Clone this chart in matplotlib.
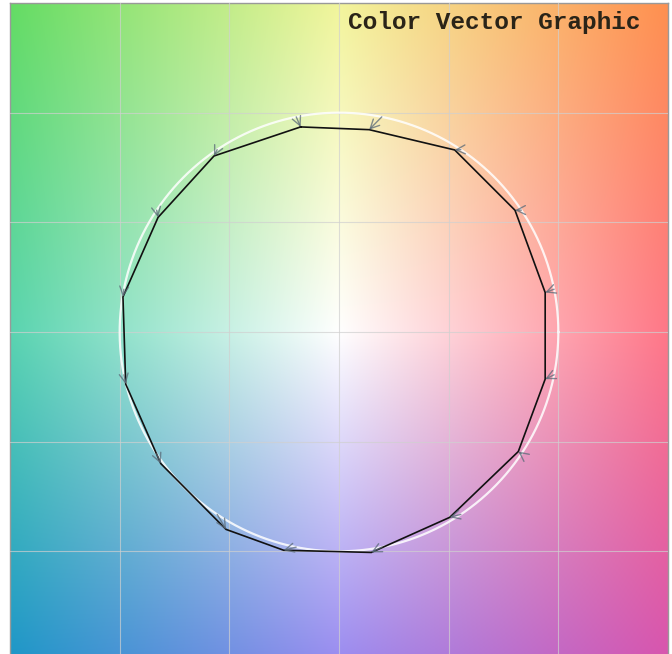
import numpy as np
import matplotlib
matplotlib.use('Agg')
import matplotlib.pyplot as plt

# target hue angles (deg) on the reference circle, and measured a/b points
target_deg = [101.25, 78.75, 56.25, 33.75, 11.25, -11.25, -33.75, -56.25,
              -78.75, -101.25, -123.75, -146.25, -168.75, 168.75, 146.25, 123.75]
meas_a = [-7.0, 5.5, 21.1, 32.1, 37.6, 37.6, 32.7, 20.2,
          5.9, -10.1, -20.6, -32.5, -38.9, -39.4, -33.0, -22.8]
meas_b = [37.4, 36.9, 33.2, 22.2, 7.2, -8.6, -21.8, -33.8,
          -40.2, -39.8, -36.0, -24.0, -9.5, 6.4, 20.9, 32.1]
target_r = 40
lim = 60

# background anchor colours (rows: top, middle, bottom; cols: left, centre, right)
anchor_top = ["#64dc64", "#f2f59c", "#ff9050"]
anchor_mid = ["#5ad4b0", "#ffffff", "#ff7888"]
anchor_bot = ["#1e96c8", "#9a8cf0", "#d755af"]

def to_rgb(hexes):
    return [matplotlib.colors.to_rgb(h) for h in hexes]

anchors = np.array([to_rgb(anchor_bot), to_rgb(anchor_mid), to_rgb(anchor_top)])
n = 240
u = np.linspace(0, 2, n)
iu = np.clip(u.astype(int), 0, 1)
fu = u - iu
bg = np.zeros((n, n, 3))
for r in range(n):
    for c in range(n):
        i, j = iu[r], iu[c]
        fy, fx = fu[r], fu[c]
        bg[r, c] = (anchors[i, j] * (1 - fy) * (1 - fx) + anchors[i, j + 1] * (1 - fy) * fx
                    + anchors[i + 1, j] * fy * (1 - fx) + anchors[i + 1, j + 1] * fy * fx)

fig = plt.figure(figsize=(6.72, 6.54), dpi=100)
fig.patch.set_facecolor("white")
ax = fig.add_axes([10 / 672, (654 - 661) / 654, 658 / 672, 658 / 654])
ax.imshow(bg, origin="lower", extent=[-lim, lim, -lim, lim], interpolation="bilinear", zorder=0)
ax.set_xlim(-lim, lim)
ax.set_ylim(-lim, lim)
ax.set_xticks(np.arange(-40, 41, 20))
ax.set_yticks(np.arange(-40, 41, 20))
ax.tick_params(length=0, labelbottom=False, labelleft=False)
ax.grid(True, color="#d0d0d0", linewidth=0.8, alpha=0.7)
ax.set_axisbelow(False)
for s in ax.spines.values():
    s.set_color("#999999")
    s.set_linewidth(1)

# reference circle
t = np.linspace(0, 2 * np.pi, 400)
ax.plot(target_r * np.cos(t), target_r * np.sin(t), color="white", lw=1.6, alpha=0.85, zorder=3)

# measured polygon
ax.plot(meas_a + meas_a[:1], meas_b + meas_b[:1], color="#111111", lw=1.2, zorder=4)

# vectors from target to measured
for deg, a, b in zip(target_deg, meas_a, meas_b):
    ta = target_r * np.cos(np.radians(deg))
    tb = target_r * np.sin(np.radians(deg))
    ax.annotate("", xy=(a, b), xytext=(ta, tb),
                arrowprops=dict(arrowstyle="->", color="#5a6a78", alpha=0.75,
                                lw=1.0, mutation_scale=16, shrinkA=0, shrinkB=0),
                zorder=5)

fig.text(640 / 672, 1 - 11 / 654, "Color Vector Graphic", ha="right", va="top",
         family="Liberation Mono", fontweight="bold", fontsize=17.6, color="#2a2418")

fig.savefig("out.png", dpi=100, facecolor="white")
